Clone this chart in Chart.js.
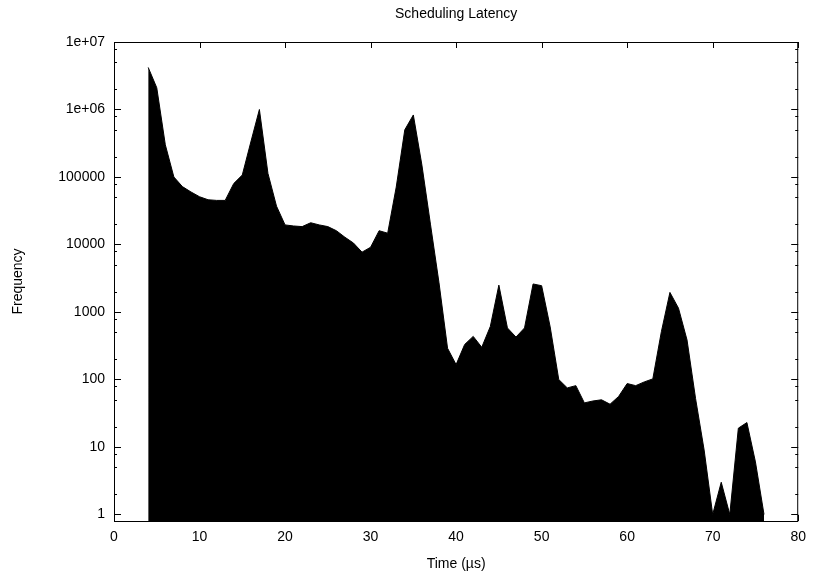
<!DOCTYPE html>
<html>
<head>
<meta charset="utf-8">
<title>Scheduling Latency</title>
<script src="https://cdn.jsdelivr.net/npm/chart.js@4.4.1/dist/chart.umd.min.js"></script>
<style>
  html, body { margin: 0; padding: 0; background: #fff; }
  canvas { display: block; }
</style>
</head>
<body>
<canvas id="myChart" width="814" height="575"></canvas>
<script>
// latency buckets in microseconds and how many samples fell in each
var times = [4, 5, 6, 7, 8, 9, 10, 11, 12, 13, 14, 15, 16, 17, 18, 19, 20,
             21, 22, 23, 24, 25, 26, 27, 28, 29, 30, 31, 32, 33, 34, 35, 36,
             37, 38, 39, 40, 41, 42, 43, 44, 45, 46, 47, 48, 49, 50, 51, 52,
             53, 54, 55, 56, 57, 58, 59, 60, 61, 62, 63, 64, 65, 66, 67, 68,
             69, 70, 71, 72, 73, 74, 75, 76];
var counts = [4200000, 2100000, 300000, 100000, 72000, 60000, 51000, 46000, 45000, 45000,
              80000, 107000, 330000, 1000000, 113000, 37000, 19500, 18800, 18400, 21000,
              19500, 18400, 16000, 12800, 10500, 7700, 9100, 16000, 14700, 71000,
              500000, 830000, 150000, 20000, 2700, 290, 166, 330, 435, 300,
              610, 2500, 580, 425, 580, 2600, 2450, 600, 100, 75,
              81, 45, 48, 50, 43, 56, 87, 81, 92, 102,
              510, 1950, 1140, 385, 52, 9, 1, 3, 1, 19,
              23, 6, 1];

var xTicks = [0, 10, 20, 30, 40, 50, 60, 70, 80];
var yTicks = [1, 10, 100, 1000, 10000, 100000, 1000000, 10000000];
var yTickLabels = ["1", "10", "100", "1000", "10000", "100000", "1e+06", "1e+07"];
var yMinorSteps = [2, 5, 8];

var points = times.map(function (t, i) {
  return {x: t, y: counts[i]};
});

// gnuplot style frame: box round the plot, ticks pointing inwards on all sides
var frameTicks = {
  id: "frameTicks",
  afterDatasetsDraw: function (chart) {
    var ctx = chart.ctx;
    var a = chart.chartArea;
    var xs = chart.scales.x;
    var ys = chart.scales.y;
    ctx.save();
    ctx.strokeStyle = "#000";
    ctx.lineWidth = 1;
    ctx.beginPath();
    xTicks.forEach(function (v) {
      var px = Math.round(xs.getPixelForValue(v)) + 0.5;
      ctx.moveTo(px, a.bottom);
      ctx.lineTo(px, a.bottom - 6);
      ctx.moveTo(px, a.top);
      ctx.lineTo(px, a.top + 6);
    });
    yTicks.forEach(function (v, i) {
      var py = Math.round(ys.getPixelForValue(v)) + 0.5;
      ctx.moveTo(a.left, py);
      ctx.lineTo(a.left + 7, py);
      ctx.moveTo(a.right, py);
      ctx.lineTo(a.right - 7, py);
      if (i == yTicks.length - 1) return;
      yMinorSteps.forEach(function (m) {
        var pm = Math.round(ys.getPixelForValue(v * m)) + 0.5;
        ctx.moveTo(a.left, pm);
        ctx.lineTo(a.left + 3, pm);
        ctx.moveTo(a.right, pm);
        ctx.lineTo(a.right - 3, pm);
      });
    });
    ctx.stroke();
    ctx.strokeRect(a.left + 0.5, a.top + 0.5, a.right - a.left - 1, a.bottom - a.top);
    ctx.restore();
  }
};

Chart.defaults.font.family = "'Liberation Sans', Arial, sans-serif";
Chart.defaults.font.size = 14;
Chart.defaults.color = "#000";

new Chart("myChart", {
  type: "line",
  data: {
    datasets: [{
      data: points,
      fill: "start",
      backgroundColor: "#000",
      borderColor: "#000",
      borderWidth: 1,
      pointRadius: 0,
      tension: 0
    }]
  },
  options: {
    responsive: false,
    devicePixelRatio: 1,
    animation: false,
    layout: {padding: {left: 0, right: 15, top: 0, bottom: 0}},
    plugins: {
      legend: {display: false},
      tooltip: {enabled: false},
      title: {
        display: true,
        fullSize: false,
        text: "Scheduling Latency",
        font: {size: 14, weight: "normal"},
        padding: {top: 6, bottom: 19.2}
      }
    },
    scales: {
      x: {
        type: "linear",
        min: 0,
        max: 80,
        grid: {display: false, drawTicks: false},
        border: {display: false},
        afterBuildTicks: function (s) {
          s.ticks = xTicks.map(function (v) { return {value: v}; });
        },
        afterFit: function (s) { s.height = 54; },
        ticks: {padding: 8, maxRotation: 0},
        title: {display: true, text: "Time (µs)", padding: {top: 0, bottom: 2}}
      },
      y: {
        type: "logarithmic",
        min: 0.8,
        max: 10000000,
        grid: {display: false, drawTicks: false},
        border: {display: false},
        afterBuildTicks: function (s) {
          s.ticks = yTicks.map(function (v) { return {value: v}; });
        },
        afterFit: function (s) { s.width = 114; },
        ticks: {
          padding: 9,
          callback: function (value) {
            var i = yTicks.indexOf(value);
            return i >= 0 ? yTickLabels[i] : "";
          }
        },
        title: {display: true, text: "Frequency", padding: {top: 10, bottom: 0}}
      }
    }
  },
  plugins: [frameTicks]
});
</script>
</body>
</html>
